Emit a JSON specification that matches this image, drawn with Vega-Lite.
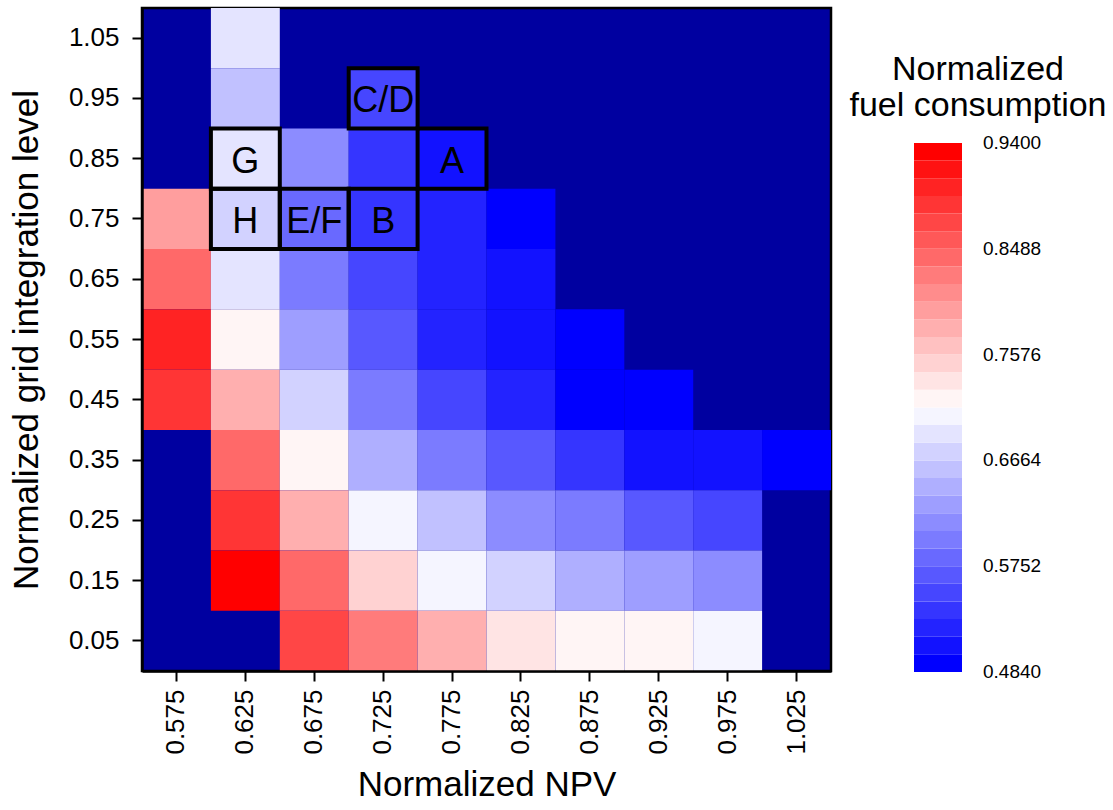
{
  "$schema": "https://vega.github.io/schema/vega-lite/v6.json",
  "width": 689,
  "height": 663,
  "autosize": {"type": "none"},
  "padding": {"left": 142, "top": 8, "right": 282, "bottom": 139},
  "background": "white",
  "config": {
    "font": "Liberation Sans",
    "view": {"fill": "#0000a0", "stroke": "black", "strokeWidth": 2.5},
    "axis": {
      "labelFont": "Liberation Sans", "labelFontSize": 26, "labelColor": "black",
      "titleFont": "Liberation Sans", "titleFontSize": 35, "titleFontWeight": "normal", "titleColor": "black",
      "tickColor": "black", "tickWidth": 2, "tickSize": 10,
      "domainColor": "black", "domainWidth": 2.5, "grid": false
    }
  },
  "datasets": {
    "cells": [
      {"npv": "0.625", "level": "1.05", "fuel": 0.6892},
      {"npv": "0.625", "level": "0.95", "fuel": 0.6588},
      {"npv": "0.725", "level": "0.95", "fuel": 0.5524},
      {"npv": "0.625", "level": "0.85", "fuel": 0.6892},
      {"npv": "0.675", "level": "0.85", "fuel": 0.6132},
      {"npv": "0.725", "level": "0.85", "fuel": 0.5372},
      {"npv": "0.775", "level": "0.85", "fuel": 0.5068},
      {"npv": "0.575", "level": "0.75", "fuel": 0.7956},
      {"npv": "0.625", "level": "0.75", "fuel": 0.6740},
      {"npv": "0.675", "level": "0.75", "fuel": 0.5828},
      {"npv": "0.725", "level": "0.75", "fuel": 0.5372},
      {"npv": "0.775", "level": "0.75", "fuel": 0.5220},
      {"npv": "0.825", "level": "0.75", "fuel": 0.4916},
      {"npv": "0.575", "level": "0.65", "fuel": 0.8412},
      {"npv": "0.625", "level": "0.65", "fuel": 0.6892},
      {"npv": "0.675", "level": "0.65", "fuel": 0.5980},
      {"npv": "0.725", "level": "0.65", "fuel": 0.5524},
      {"npv": "0.775", "level": "0.65", "fuel": 0.5220},
      {"npv": "0.825", "level": "0.65", "fuel": 0.5068},
      {"npv": "0.575", "level": "0.55", "fuel": 0.9020},
      {"npv": "0.625", "level": "0.55", "fuel": 0.7196},
      {"npv": "0.675", "level": "0.55", "fuel": 0.6284},
      {"npv": "0.725", "level": "0.55", "fuel": 0.5676},
      {"npv": "0.775", "level": "0.55", "fuel": 0.5220},
      {"npv": "0.825", "level": "0.55", "fuel": 0.5068},
      {"npv": "0.875", "level": "0.55", "fuel": 0.4916},
      {"npv": "0.575", "level": "0.45", "fuel": 0.8868},
      {"npv": "0.625", "level": "0.45", "fuel": 0.7804},
      {"npv": "0.675", "level": "0.45", "fuel": 0.6740},
      {"npv": "0.725", "level": "0.45", "fuel": 0.5980},
      {"npv": "0.775", "level": "0.45", "fuel": 0.5524},
      {"npv": "0.825", "level": "0.45", "fuel": 0.5220},
      {"npv": "0.875", "level": "0.45", "fuel": 0.4916},
      {"npv": "0.925", "level": "0.45", "fuel": 0.4916},
      {"npv": "0.625", "level": "0.35", "fuel": 0.8412},
      {"npv": "0.675", "level": "0.35", "fuel": 0.7196},
      {"npv": "0.725", "level": "0.35", "fuel": 0.6436},
      {"npv": "0.775", "level": "0.35", "fuel": 0.5980},
      {"npv": "0.825", "level": "0.35", "fuel": 0.5676},
      {"npv": "0.875", "level": "0.35", "fuel": 0.5372},
      {"npv": "0.925", "level": "0.35", "fuel": 0.5068},
      {"npv": "0.975", "level": "0.35", "fuel": 0.5068},
      {"npv": "1.025", "level": "0.35", "fuel": 0.4916},
      {"npv": "0.625", "level": "0.25", "fuel": 0.8868},
      {"npv": "0.675", "level": "0.25", "fuel": 0.7804},
      {"npv": "0.725", "level": "0.25", "fuel": 0.7044},
      {"npv": "0.775", "level": "0.25", "fuel": 0.6588},
      {"npv": "0.825", "level": "0.25", "fuel": 0.6132},
      {"npv": "0.875", "level": "0.25", "fuel": 0.5980},
      {"npv": "0.925", "level": "0.25", "fuel": 0.5676},
      {"npv": "0.975", "level": "0.25", "fuel": 0.5524},
      {"npv": "0.625", "level": "0.15", "fuel": 0.9324},
      {"npv": "0.675", "level": "0.15", "fuel": 0.8412},
      {"npv": "0.725", "level": "0.15", "fuel": 0.7500},
      {"npv": "0.775", "level": "0.15", "fuel": 0.7044},
      {"npv": "0.825", "level": "0.15", "fuel": 0.6740},
      {"npv": "0.875", "level": "0.15", "fuel": 0.6436},
      {"npv": "0.925", "level": "0.15", "fuel": 0.6284},
      {"npv": "0.975", "level": "0.15", "fuel": 0.6132},
      {"npv": "0.675", "level": "0.05", "fuel": 0.8716},
      {"npv": "0.725", "level": "0.05", "fuel": 0.8260},
      {"npv": "0.775", "level": "0.05", "fuel": 0.7804},
      {"npv": "0.825", "level": "0.05", "fuel": 0.7348},
      {"npv": "0.875", "level": "0.05", "fuel": 0.7196},
      {"npv": "0.925", "level": "0.05", "fuel": 0.7196},
      {"npv": "0.975", "level": "0.05", "fuel": 0.7044}
    ],
    "boxes": [
      {"npv": "0.725", "level": "0.95", "label": "C/D"},
      {"npv": "0.775", "level": "0.85", "label": "A"},
      {"npv": "0.625", "level": "0.85", "label": "G"},
      {"npv": "0.625", "level": "0.75", "label": "H"},
      {"npv": "0.675", "level": "0.75", "label": "E/F"},
      {"npv": "0.725", "level": "0.75", "label": "B"}
    ]
  },
  "layer": [
    {
      "data": {"name": "cells"},
      "mark": {"type": "rect"},
      "encoding": {
        "x": {
          "field": "npv", "type": "ordinal",
          "scale": {"domain": ["0.575","0.625","0.675","0.725","0.775","0.825","0.875","0.925","0.975","1.025"], "paddingInner": 0, "paddingOuter": 0},
          "axis": {"title": "Normalized NPV", "labelAngle": -90, "labelPadding": 8, "titlePadding": 13}
        },
        "y": {
          "field": "level", "type": "ordinal",
          "scale": {"domain": ["1.05","0.95","0.85","0.75","0.65","0.55","0.45","0.35","0.25","0.15","0.05"], "paddingInner": 0, "paddingOuter": 0},
          "axis": {"title": "Normalized grid integration level", "labelPadding": 13, "titlePadding": 24}
        },
        "color": {
          "field": "fuel", "type": "quantitative",
          "scale": {
            "type": "quantize", "domain": [0.484, 0.94], "nice": false, "zero": false,
            "range": ["#0000ff","#1212ff","#2323ff","#3535ff","#4646ff","#5858ff","#6969ff","#7b7bff","#8c8cff","#9e9eff","#afafff","#c1c1ff","#d2d2ff","#e4e4ff","#f5f5ff","#fff5f5","#ffe4e4","#ffd2d2","#ffc1c1","#ffafaf","#ff9e9e","#ff8c8c","#ff7b7b","#ff6969","#ff5858","#ff4646","#ff3535","#ff2323","#ff1212","#ff0000"]
          },
          "legend": {
            "type": "gradient", "orient": "none", "direction": "vertical",
            "legendX": 707, "legendY": 45,
            "title": ["Normalized", "fuel consumption"],
            "titleFont": "Liberation Sans", "titleFontSize": 34, "titleFontWeight": "normal", "titleColor": "black",
            "titleAnchor": "middle", "titleAlign": "center", "titleLineHeight": 36, "titlePadding": 20, "titleLimit": 500,
            "gradientLength": 529, "gradientThickness": 48,
            "values": [0.48401,0.49921,0.51441,0.52961,0.54481,0.56001,0.57521,0.59041,0.60561,0.62081,0.63601,0.65121,0.66641,0.68161,0.69681,0.71201,0.72721,0.74241,0.75761,0.77281,0.78801,0.80321,0.81841,0.83361,0.84881,0.86401,0.87921,0.89441,0.90961,0.92481,0.94001],
            "labelExpr": "datum.index % 6 === 0 ? format(datum.value, '.4f') : ''",
            "labelFont": "Liberation Sans", "labelFontSize": 19, "labelColor": "black",
            "labelOffset": 21, "labelOverlap": false, "labelBaseline": "middle",
            "encode": {"labels": {"update": {"baseline": {"value": "middle"}}}}
          }
        }
      }
    },
    {
      "data": {"name": "boxes"},
      "mark": {"type": "rect", "fill": "transparent", "stroke": "black", "strokeWidth": 4},
      "encoding": {
        "x": {"field": "npv", "type": "ordinal"},
        "y": {"field": "level", "type": "ordinal"}
      }
    },
    {
      "data": {"name": "boxes"},
      "mark": {"type": "text", "font": "Liberation Sans", "fontSize": 36, "color": "black", "dy": 3},
      "encoding": {
        "x": {"field": "npv", "type": "ordinal"},
        "y": {"field": "level", "type": "ordinal"},
        "text": {"field": "label"}
      }
    }
  ]
}
